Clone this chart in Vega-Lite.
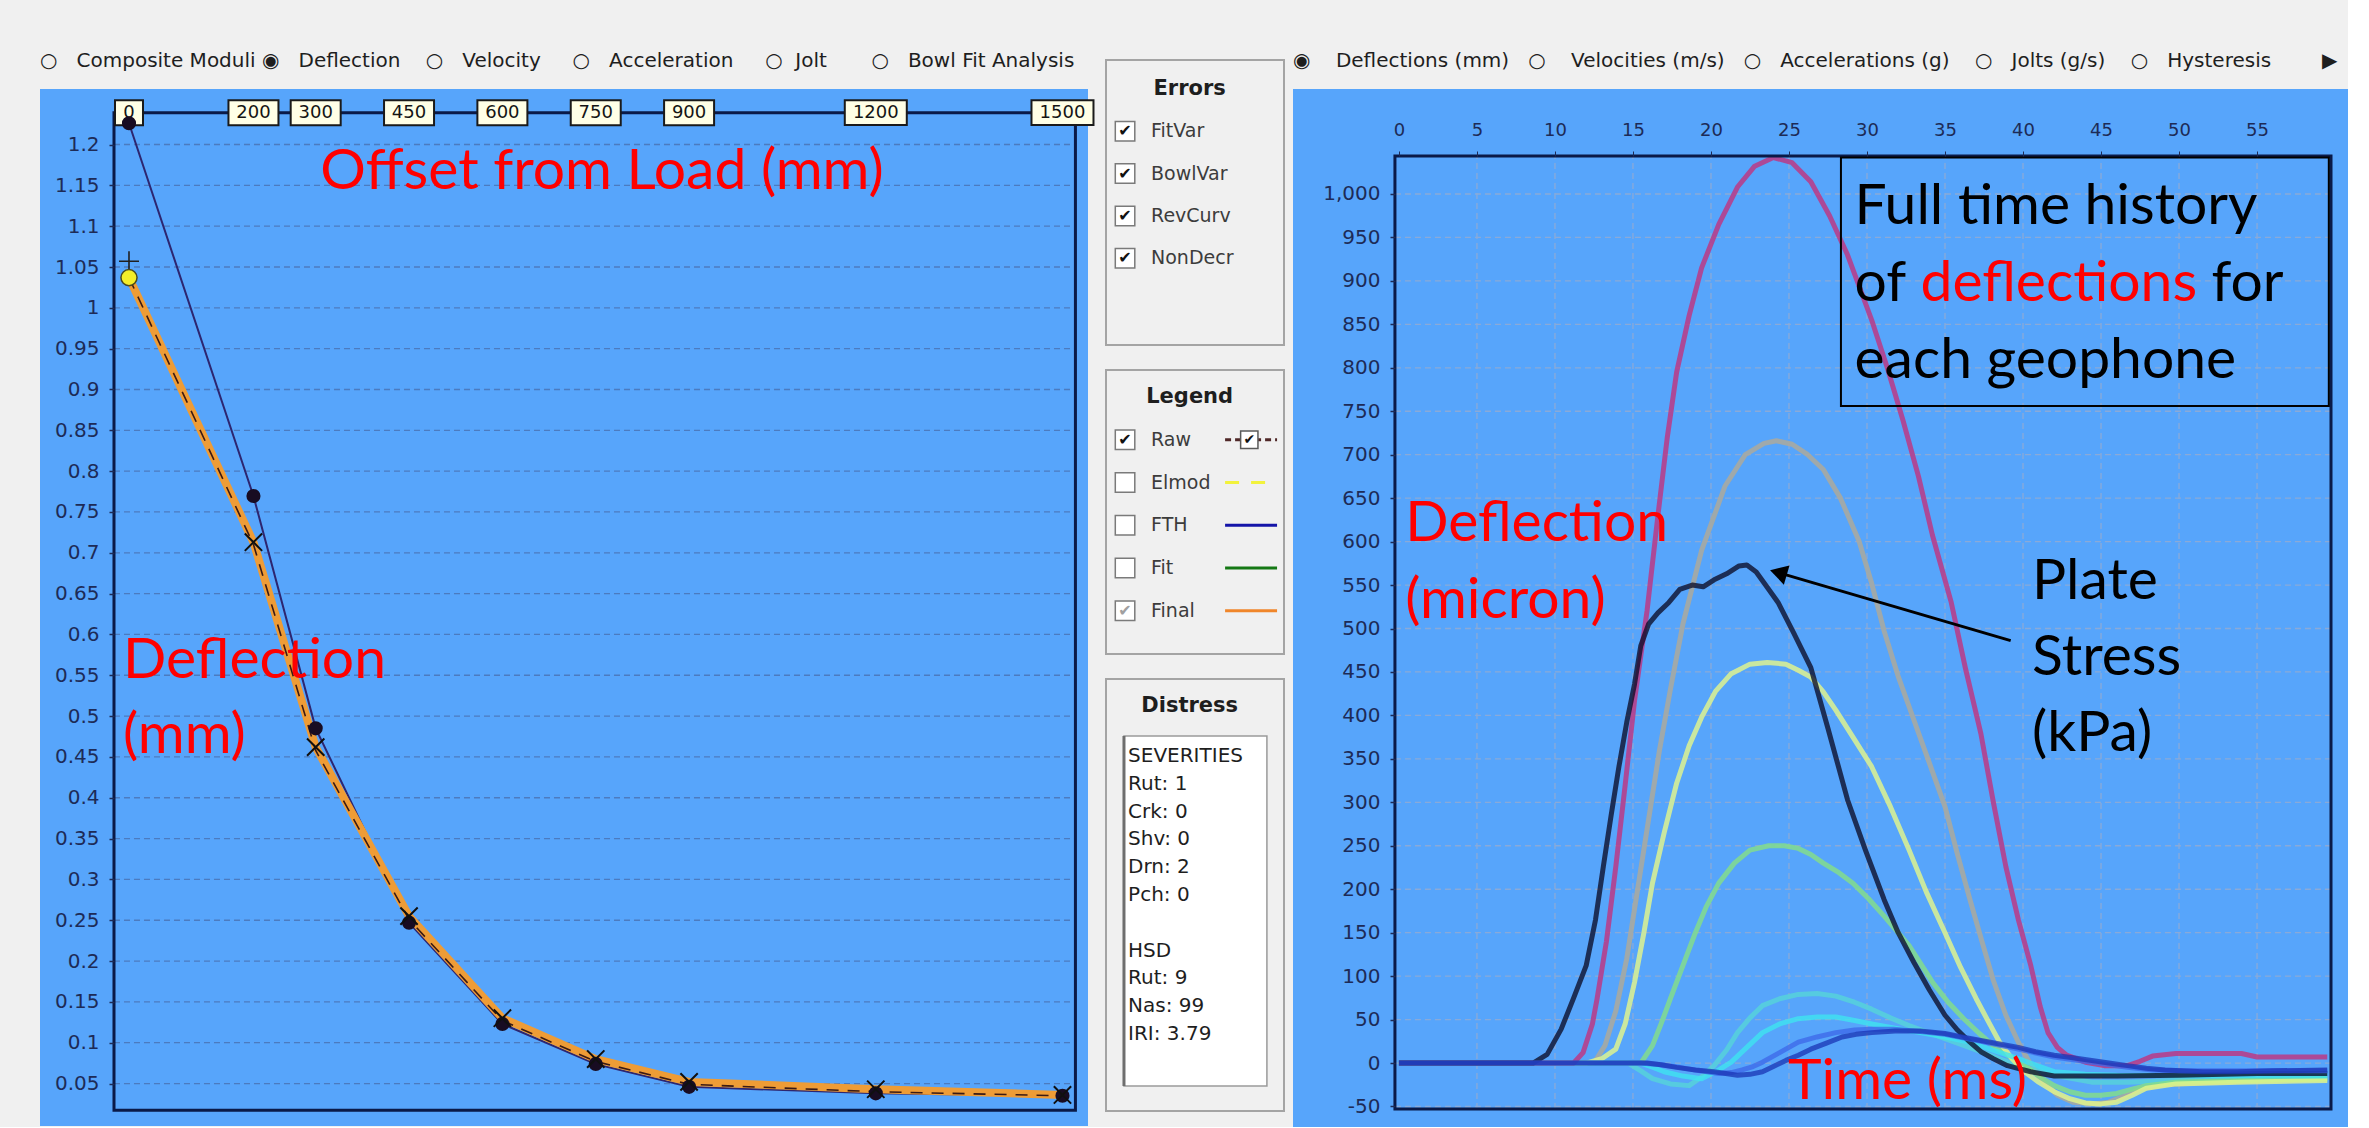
{
"$schema": "https://vega.github.io/schema/vega-lite/v6.json",
"background": "#F0F0F0",
"padding": {"left": 40, "top": 51, "right": 0, "bottom": 0},
"config": {"view": {"stroke": null}, "font": "DejaVu Sans"},
"datasets": {
"one": [{}],
"bowl": [
{"series":"Peak","offset":0,"defl":1.226},{"series":"Peak","offset":200,"defl":0.7695},{"series":"Peak","offset":300,"defl":0.485},{"series":"Peak","offset":450,"defl":0.247},{"series":"Peak","offset":600,"defl":0.123},{"series":"Peak","offset":750,"defl":0.074},{"series":"Peak","offset":900,"defl":0.046},{"series":"Peak","offset":1200,"defl":0.038},{"series":"Peak","offset":1500,"defl":0.035},
{"series":"Final","offset":0,"defl":1.037},{"series":"Final","offset":200,"defl":0.713},{"series":"Final","offset":300,"defl":0.462},{"series":"Final","offset":450,"defl":0.255},{"series":"Final","offset":600,"defl":0.13},{"series":"Final","offset":750,"defl":0.08},{"series":"Final","offset":900,"defl":0.052},{"series":"Final","offset":1200,"defl":0.043},{"series":"Final","offset":1500,"defl":0.036},
{"series":"Raw","offset":0,"defl":1.037},{"series":"Raw","offset":200,"defl":0.71},{"series":"Raw","offset":300,"defl":0.458},{"series":"Raw","offset":450,"defl":0.251},{"series":"Raw","offset":600,"defl":0.127},{"series":"Raw","offset":750,"defl":0.077},{"series":"Raw","offset":900,"defl":0.049},{"series":"Raw","offset":1200,"defl":0.04},{"series":"Raw","offset":1500,"defl":0.035},
{"series":"Plus","offset":0,"defl":1.057}
],
"gridL": [{"v":0.05},{"v":0.1},{"v":0.15},{"v":0.2},{"v":0.25},{"v":0.3},{"v":0.35},{"v":0.4},{"v":0.45},{"v":0.5},{"v":0.55},{"v":0.6},{"v":0.65},{"v":0.7},{"v":0.75},{"v":0.8},{"v":0.85},{"v":0.9},{"v":0.95},{"v":1},{"v":1.05},{"v":1.1},{"v":1.15},{"v":1.2}],
"gridRX": [{"t":5},{"t":10},{"t":15},{"t":20},{"t":25},{"t":30},{"t":35},{"t":40},{"t":45},{"t":50},{"t":55}],
"gridRY": [{"v":-50},{"v":0},{"v":50},{"v":100},{"v":150},{"v":200},{"v":250},{"v":300},{"v":350},{"v":400},{"v":450},{"v":500},{"v":550},{"v":600},{"v":650},{"v":700},{"v":750},{"v":800},{"v":850},{"v":900},{"v":950},{"v":1000}],
"errorsItems": [{"line":1,"label":"FitVar","state":"on"},{"line":2,"label":"BowlVar","state":"on"},{"line":3,"label":"RevCurv","state":"on"},{"line":4,"label":"NonDecr","state":"on"}],
"legendItems": [{"line":1,"label":"Raw","state":"on"},{"line":2,"label":"Elmod","state":"off"},{"line":3,"label":"FTH","state":"off"},{"line":4,"label":"Fit","state":"off"},{"line":5,"label":"Final","state":"grey"}],
"distressLines": [{"line":1,"text":"SEVERITIES"},{"line":2,"text":"Rut: 1"},{"line":3,"text":"Crk: 0"},{"line":4,"text":"Shv: 0"},{"line":5,"text":"Drn: 2"},{"line":6,"text":"Pch: 0"},{"line":8,"text":"HSD"},{"line":9,"text":"Rut: 9"},{"line":10,"text":"Nas: 99"},{"line":11,"text":"IRI: 3.79"}],
"history": [
{"g":"D2","t":0,"v":0},{"g":"D2","t":12.5,"v":0},{"g":"D2","t":13.2,"v":20},{"g":"D2","t":13.9,"v":60},{"g":"D2","t":14.6,"v":120},{"g":"D2","t":15.3,"v":200},{"g":"D2","t":16,"v":280},{"g":"D2","t":16.7,"v":360},{"g":"D2","t":17.4,"v":430},{"g":"D2","t":18.2,"v":505},{"g":"D2","t":19.4,"v":590},{"g":"D2","t":20.9,"v":664},{"g":"D2","t":22.2,"v":700},{"g":"D2","t":23.4,"v":713},{"g":"D2","t":24.2,"v":716},{"g":"D2","t":25.2,"v":712},{"g":"D2","t":26.2,"v":700},{"g":"D2","t":27.2,"v":683},{"g":"D2","t":28.3,"v":650},{"g":"D2","t":29.5,"v":600},{"g":"D2","t":30.3,"v":552},{"g":"D2","t":31.1,"v":497},{"g":"D2","t":32,"v":445},{"g":"D2","t":33,"v":395},{"g":"D2","t":34,"v":345},{"g":"D2","t":35,"v":295},{"g":"D2","t":35.8,"v":240},{"g":"D2","t":36.6,"v":188},{"g":"D2","t":37.4,"v":138},{"g":"D2","t":38.1,"v":95},{"g":"D2","t":38.9,"v":55},{"g":"D2","t":39.7,"v":24},{"g":"D2","t":40.5,"v":-2},{"g":"D2","t":41.3,"v":-22},{"g":"D2","t":42.2,"v":-37},{"g":"D2","t":43.2,"v":-45},{"g":"D2","t":44.5,"v":-47},{"g":"D2","t":45.5,"v":-45},{"g":"D2","t":46.5,"v":-38},{"g":"D2","t":47.5,"v":-30},{"g":"D2","t":49,"v":-25},{"g":"D2","t":51,"v":-23},{"g":"D2","t":54,"v":-21},{"g":"D2","t":59.5,"v":-18},
{"g":"D5","t":0,"v":0},{"g":"D5","t":14.7,"v":0},{"g":"D5","t":15.5,"v":-9},{"g":"D5","t":16.25,"v":-18},{"g":"D5","t":17.4,"v":-24},{"g":"D5","t":18.6,"v":-26},{"g":"D5","t":19.4,"v":-16},{"g":"D5","t":20.2,"v":-3},{"g":"D5","t":21,"v":15},{"g":"D5","t":21.7,"v":35},{"g":"D5","t":22.5,"v":52},{"g":"D5","t":23.3,"v":66},{"g":"D5","t":24.4,"v":74},{"g":"D5","t":25.6,"v":79},{"g":"D5","t":26.8,"v":80},{"g":"D5","t":28,"v":77},{"g":"D5","t":29.2,"v":70},{"g":"D5","t":30.3,"v":62},{"g":"D5","t":31.5,"v":52},{"g":"D5","t":32.7,"v":43},{"g":"D5","t":35,"v":28},{"g":"D5","t":37.3,"v":13},{"g":"D5","t":39.7,"v":-3},{"g":"D5","t":42,"v":-14},{"g":"D5","t":44.4,"v":-22},{"g":"D5","t":46.7,"v":-22},{"g":"D5","t":49.8,"v":-20},{"g":"D5","t":59.5,"v":-18},
{"g":"D4","t":0,"v":0},{"g":"D4","t":15.5,"v":0},{"g":"D4","t":16.25,"v":20},{"g":"D4","t":16.8,"v":45},{"g":"D4","t":17.4,"v":74},{"g":"D4","t":18.2,"v":112},{"g":"D4","t":19,"v":150},{"g":"D4","t":19.7,"v":180},{"g":"D4","t":20.5,"v":207},{"g":"D4","t":21.5,"v":230},{"g":"D4","t":22.5,"v":245},{"g":"D4","t":23.7,"v":250},{"g":"D4","t":24.7,"v":250},{"g":"D4","t":25.6,"v":247},{"g":"D4","t":26.4,"v":240},{"g":"D4","t":27.2,"v":230},{"g":"D4","t":28.2,"v":219},{"g":"D4","t":29.1,"v":207},{"g":"D4","t":30.1,"v":189},{"g":"D4","t":31.1,"v":169},{"g":"D4","t":32.7,"v":135},{"g":"D4","t":34.2,"v":93},{"g":"D4","t":35.2,"v":70},{"g":"D4","t":36.2,"v":51},{"g":"D4","t":37.2,"v":34},{"g":"D4","t":38.1,"v":20},{"g":"D4","t":39.1,"v":8},{"g":"D4","t":40.1,"v":-3},{"g":"D4","t":41,"v":-15},{"g":"D4","t":42,"v":-26},{"g":"D4","t":43,"v":-33},{"g":"D4","t":44,"v":-37},{"g":"D4","t":45,"v":-37},{"g":"D4","t":46,"v":-35},{"g":"D4","t":47,"v":-30},{"g":"D4","t":47.9,"v":-26},{"g":"D4","t":49.8,"v":-22},{"g":"D4","t":59.5,"v":-18},
{"g":"D3","t":0,"v":0},{"g":"D3","t":12,"v":0},{"g":"D3","t":13,"v":5},{"g":"D3","t":13.9,"v":16},{"g":"D3","t":14.5,"v":45},{"g":"D3","t":15.1,"v":93},{"g":"D3","t":15.7,"v":150},{"g":"D3","t":16.25,"v":207},{"g":"D3","t":17,"v":265},{"g":"D3","t":17.8,"v":322},{"g":"D3","t":18.6,"v":365},{"g":"D3","t":19.4,"v":398},{"g":"D3","t":20.3,"v":428},{"g":"D3","t":21.3,"v":448},{"g":"D3","t":22.5,"v":459},{"g":"D3","t":23.6,"v":461},{"g":"D3","t":24.8,"v":459},{"g":"D3","t":25.6,"v":452},{"g":"D3","t":26.4,"v":444},{"g":"D3","t":27.2,"v":427},{"g":"D3","t":28,"v":406},{"g":"D3","t":29.1,"v":375},{"g":"D3","t":30.3,"v":341},{"g":"D3","t":31.5,"v":295},{"g":"D3","t":32.7,"v":245},{"g":"D3","t":33.8,"v":197},{"g":"D3","t":35,"v":150},{"g":"D3","t":36,"v":110},{"g":"D3","t":37,"v":74},{"g":"D3","t":37.8,"v":47},{"g":"D3","t":38.5,"v":24},{"g":"D3","t":39.3,"v":5},{"g":"D3","t":40.1,"v":-10},{"g":"D3","t":41,"v":-22},{"g":"D3","t":42,"v":-33},{"g":"D3","t":43,"v":-41},{"g":"D3","t":44,"v":-46},{"g":"D3","t":45,"v":-47},{"g":"D3","t":46,"v":-45},{"g":"D3","t":47,"v":-37},{"g":"D3","t":47.9,"v":-29},{"g":"D3","t":49.8,"v":-24},{"g":"D3","t":53.75,"v":-22},{"g":"D3","t":59.5,"v":-20},
{"g":"D6","t":0,"v":0},{"g":"D6","t":15.5,"v":0},{"g":"D6","t":16.3,"v":-5},{"g":"D6","t":17,"v":-10},{"g":"D6","t":18.2,"v":-15},{"g":"D6","t":19.4,"v":-18},{"g":"D6","t":20.4,"v":-9},{"g":"D6","t":21.3,"v":1},{"g":"D6","t":22.3,"v":18},{"g":"D6","t":23.3,"v":35},{"g":"D6","t":24.4,"v":45},{"g":"D6","t":25.6,"v":51},{"g":"D6","t":26.8,"v":53},{"g":"D6","t":28,"v":53},{"g":"D6","t":29.2,"v":49},{"g":"D6","t":30.3,"v":45},{"g":"D6","t":31.8,"v":40},{"g":"D6","t":33.4,"v":35},{"g":"D6","t":35,"v":30},{"g":"D6","t":36.6,"v":24},{"g":"D6","t":38.2,"v":14},{"g":"D6","t":39.7,"v":5},{"g":"D6","t":40.9,"v":-3},{"g":"D6","t":42,"v":-10},{"g":"D6","t":44,"v":-13},{"g":"D6","t":46,"v":-14},{"g":"D6","t":59.5,"v":-15},
{"g":"D1","t":0,"v":0},{"g":"D1","t":11.2,"v":0},{"g":"D1","t":11.8,"v":12},{"g":"D1","t":12.4,"v":45},{"g":"D1","t":12.7,"v":74},{"g":"D1","t":13.3,"v":140},{"g":"D1","t":13.9,"v":226},{"g":"D1","t":14.5,"v":320},{"g":"D1","t":15.1,"v":417},{"g":"D1","t":15.9,"v":520},{"g":"D1","t":16.6,"v":630},{"g":"D1","t":17.2,"v":720},{"g":"D1","t":17.8,"v":795},{"g":"D1","t":18.6,"v":860},{"g":"D1","t":19.4,"v":915},{"g":"D1","t":20.5,"v":965},{"g":"D1","t":21.7,"v":1008},{"g":"D1","t":22.8,"v":1032},{"g":"D1","t":24,"v":1042},{"g":"D1","t":25.2,"v":1036},{"g":"D1","t":26.4,"v":1014},{"g":"D1","t":27.6,"v":975},{"g":"D1","t":28.75,"v":930},{"g":"D1","t":30.3,"v":855},{"g":"D1","t":31.3,"v":800},{"g":"D1","t":32.3,"v":740},{"g":"D1","t":33.3,"v":675},{"g":"D1","t":34.2,"v":607},{"g":"D1","t":35.4,"v":530},{"g":"D1","t":36.3,"v":455},{"g":"D1","t":37.3,"v":379},{"g":"D1","t":38.1,"v":300},{"g":"D1","t":38.9,"v":226},{"g":"D1","t":39.7,"v":165},{"g":"D1","t":40.5,"v":112},{"g":"D1","t":41.1,"v":65},{"g":"D1","t":41.6,"v":35},{"g":"D1","t":42.2,"v":18},{"g":"D1","t":42.8,"v":9},{"g":"D1","t":44,"v":1},{"g":"D1","t":45.2,"v":-3},{"g":"D1","t":46.7,"v":-3},{"g":"D1","t":47.5,"v":2},{"g":"D1","t":48.3,"v":8},{"g":"D1","t":49.8,"v":11},{"g":"D1","t":54,"v":11},{"g":"D1","t":55,"v":7},{"g":"D1","t":59.5,"v":7},
{"g":"Load","t":0,"v":0},{"g":"Load","t":8.6,"v":0},{"g":"Load","t":9.5,"v":10},{"g":"Load","t":10.4,"v":39},{"g":"Load","t":11.2,"v":75},{"g":"Load","t":12,"v":112},{"g":"Load","t":12.6,"v":165},{"g":"Load","t":13.1,"v":226},{"g":"Load","t":13.6,"v":285},{"g":"Load","t":14.1,"v":341},{"g":"Load","t":14.6,"v":392},{"g":"Load","t":15.1,"v":436},{"g":"Load","t":15.5,"v":480},{"g":"Load","t":16,"v":505},{"g":"Load","t":16.6,"v":518},{"g":"Load","t":17.3,"v":530},{"g":"Load","t":18,"v":545},{"g":"Load","t":18.8,"v":550},{"g":"Load","t":19.5,"v":548},{"g":"Load","t":20.2,"v":556},{"g":"Load","t":21,"v":563},{"g":"Load","t":21.8,"v":572},{"g":"Load","t":22.3,"v":573},{"g":"Load","t":22.9,"v":565},{"g":"Load","t":23.5,"v":550},{"g":"Load","t":24.3,"v":530},{"g":"Load","t":25.3,"v":495},{"g":"Load","t":26.4,"v":455},{"g":"Load","t":27.5,"v":385},{"g":"Load","t":28.75,"v":303},{"g":"Load","t":29.9,"v":245},{"g":"Load","t":31.1,"v":188},{"g":"Load","t":32,"v":150},{"g":"Load","t":33,"v":116},{"g":"Load","t":34,"v":84},{"g":"Load","t":35,"v":55},{"g":"Load","t":35.8,"v":38},{"g":"Load","t":36.6,"v":24},{"g":"Load","t":37.3,"v":13},{"g":"Load","t":38.1,"v":5},{"g":"Load","t":39,"v":-3},{"g":"Load","t":40.5,"v":-10},{"g":"Load","t":42,"v":-15},{"g":"Load","t":46,"v":-15},{"g":"Load","t":50,"v":-14},{"g":"Load","t":55,"v":-12},{"g":"Load","t":59.5,"v":-12},
{"g":"D7","t":0,"v":0},{"g":"D7","t":15.5,"v":0},{"g":"D7","t":16.8,"v":-2},{"g":"D7","t":18,"v":-5},{"g":"D7","t":19.3,"v":-9},{"g":"D7","t":20.5,"v":-12},{"g":"D7","t":21.3,"v":-11},{"g":"D7","t":22,"v":-8},{"g":"D7","t":22.7,"v":-4},{"g":"D7","t":23.3,"v":1},{"g":"D7","t":24.4,"v":12},{"g":"D7","t":25.6,"v":24},{"g":"D7","t":26.8,"v":30},{"g":"D7","t":28,"v":35},{"g":"D7","t":29.2,"v":38},{"g":"D7","t":30.3,"v":39},{"g":"D7","t":31.7,"v":39},{"g":"D7","t":33,"v":37},{"g":"D7","t":35,"v":33},{"g":"D7","t":37.3,"v":25},{"g":"D7","t":39.7,"v":16},{"g":"D7","t":42,"v":7},{"g":"D7","t":44.4,"v":1},{"g":"D7","t":46.7,"v":-5},{"g":"D7","t":48.3,"v":-8},{"g":"D7","t":50,"v":-9},{"g":"D7","t":59.5,"v":-9},
{"g":"D8","t":0,"v":0},{"g":"D8","t":15.9,"v":0},{"g":"D8","t":16.8,"v":-2},{"g":"D8","t":17.8,"v":-5},{"g":"D8","t":19,"v":-8},{"g":"D8","t":20.2,"v":-10},{"g":"D8","t":21.7,"v":-14},{"g":"D8","t":22.5,"v":-13},{"g":"D8","t":23.3,"v":-10},{"g":"D8","t":24,"v":-4},{"g":"D8","t":24.8,"v":3},{"g":"D8","t":25.6,"v":9},{"g":"D8","t":26.4,"v":16},{"g":"D8","t":27.4,"v":23},{"g":"D8","t":28.4,"v":30},{"g":"D8","t":29.3,"v":33},{"g":"D8","t":30.3,"v":35},{"g":"D8","t":31.8,"v":37},{"g":"D8","t":33.4,"v":37},{"g":"D8","t":35,"v":34},{"g":"D8","t":36.1,"v":30},{"g":"D8","t":37.3,"v":26},{"g":"D8","t":38.5,"v":22},{"g":"D8","t":39.7,"v":18},{"g":"D8","t":40.8,"v":13},{"g":"D8","t":42,"v":9},{"g":"D8","t":43.2,"v":6},{"g":"D8","t":44.4,"v":3},{"g":"D8","t":45.5,"v":0},{"g":"D8","t":46.7,"v":-3},{"g":"D8","t":47.9,"v":-6},{"g":"D8","t":49.1,"v":-8},{"g":"D8","t":51.5,"v":-10},{"g":"D8","t":53.75,"v":-10},{"g":"D8","t":56,"v":-9},{"g":"D8","t":59.5,"v":-8}
]
},
"spacing": 7,
"align": "none",
"resolve": {"scale": {"color": "independent", "strokeDash": "independent", "strokeWidth": "independent", "opacity": "independent", "size": "independent", "shape": "independent"}},
"hconcat": [
{
"width": 1048, "height": 1037,
"view": {"stroke": null, "fill": "#57A5FB"},
"title": {"text": "○\u00a0\u00a0\u00a0Composite Moduli\u00a0◉\u00a0\u00a0\u00a0Deflection\u00a0\u00a0\u00a0\u00a0○\u00a0\u00a0\u00a0Velocity\u00a0\u00a0\u00a0\u00a0\u00a0○\u00a0\u00a0\u00a0Acceleration\u00a0\u00a0\u00a0\u00a0\u00a0○\u00a0\u00a0Jolt\u00a0\u00a0\u00a0\u00a0\u00a0\u00a0\u00a0○\u00a0\u00a0\u00a0Bowl Fit Analysis", "anchor": "start", "font": "DejaVu Sans", "fontSize": 20, "fontWeight": "normal", "color": "#1E1E1E", "offset": -2, "baseline": "bottom"},
"layer": [
{"data": {"name": "gridL"},
 "mark": {"type": "rule", "stroke": "#4A70B0", "strokeWidth": 1.3, "strokeDash": [6, 4], "opacity": 0.8},
 "encoding": {
  "y": {"field": "v", "type": "quantitative", "scale": {"domain": [-0.002, 1.268], "nice": false, "zero": false},
        "axis": {"values": [0.05,0.1,0.15,0.2,0.25,0.3,0.35,0.4,0.45,0.5,0.55,0.6,0.65,0.7,0.75,0.8,0.85,0.9,0.95,1,1.05,1.1,1.15,1.2], "format": "~g", "offset": -74, "labelFont": "DejaVu Sans", "labelFontSize": 20, "labelColor": "#1D2B57", "tickColor": "#1D2B57", "tickSize": 5, "tickWidth": 1.5, "labelPadding": 10, "domain": false, "grid": false, "title": null, "zindex": 1, "labelOverlap": false, "labelFlush": false, "labelBound": false}},
  "x": {"datum": -24.1, "type": "quantitative", "scale": {"domain": [-143, 1541], "nice": false, "zero": false}, "axis": null},
  "x2": {"datum": 1520.8}}},
{"data": {"name": "one"},
 "mark": {"type": "rect", "fill": "#57A5FB", "fillOpacity": 0, "stroke": "#0A1A48", "strokeWidth": 3},
 "encoding": {
  "x": {"datum": -24.1, "type": "quantitative", "axis": null}, "x2": {"datum": 1520.8},
  "y": {"datum": 0.0172, "type": "quantitative",
        "axis": {"values": [0.05,0.1,0.15,0.2,0.25,0.3,0.35,0.4,0.45,0.5,0.55,0.6,0.65,0.7,0.75,0.8,0.85,0.9,0.95,1,1.05,1.1,1.15,1.2], "format": "~g", "offset": -74, "labelFont": "DejaVu Sans", "labelFontSize": 20, "labelColor": "#1D2B57", "tickColor": "#1D2B57", "tickSize": 5, "tickWidth": 1.5, "labelPadding": 10, "domain": false, "grid": false, "title": null, "zindex": 1, "labelOverlap": false, "labelFlush": false, "labelBound": false}},
  "y2": {"datum": 1.239}}},
{"data": {"name": "bowl"}, "transform": [{"filter": "datum.series === 'Peak'"}],
 "mark": {"type": "line", "color": "#2D2670", "strokeWidth": 2},
 "encoding": {"x": {"field": "offset", "type": "quantitative", "axis": null},
  "y": {"field": "defl", "type": "quantitative",
        "axis": {"values": [0.05,0.1,0.15,0.2,0.25,0.3,0.35,0.4,0.45,0.5,0.55,0.6,0.65,0.7,0.75,0.8,0.85,0.9,0.95,1,1.05,1.1,1.15,1.2], "format": "~g", "offset": -74, "labelFont": "DejaVu Sans", "labelFontSize": 20, "labelColor": "#1D2B57", "tickColor": "#1D2B57", "tickSize": 5, "tickWidth": 1.5, "labelPadding": 10, "domain": false, "grid": false, "title": null, "zindex": 1, "labelOverlap": false, "labelFlush": false, "labelBound": false}}}},
{"data": {"name": "bowl"}, "transform": [{"filter": "datum.series === 'Final'"}],
 "mark": {"type": "line", "color": "#EE9C36", "strokeWidth": 8, "strokeJoin": "round", "strokeCap": "round"},
 "encoding": {"x": {"field": "offset", "type": "quantitative", "axis": null},
  "y": {"field": "defl", "type": "quantitative",
        "axis": {"values": [0.05,0.1,0.15,0.2,0.25,0.3,0.35,0.4,0.45,0.5,0.55,0.6,0.65,0.7,0.75,0.8,0.85,0.9,0.95,1,1.05,1.1,1.15,1.2], "format": "~g", "offset": -74, "labelFont": "DejaVu Sans", "labelFontSize": 20, "labelColor": "#1D2B57", "tickColor": "#1D2B57", "tickSize": 5, "tickWidth": 1.5, "labelPadding": 10, "domain": false, "grid": false, "title": null, "zindex": 1, "labelOverlap": false, "labelFlush": false, "labelBound": false}}}},
{"data": {"name": "bowl"}, "transform": [{"filter": "datum.series === 'Raw'"}],
 "mark": {"type": "line", "color": "#3B1A14", "strokeWidth": 1.6, "strokeDash": [12, 9]},
 "encoding": {"x": {"field": "offset", "type": "quantitative", "axis": null},
  "y": {"field": "defl", "type": "quantitative",
        "axis": {"values": [0.05,0.1,0.15,0.2,0.25,0.3,0.35,0.4,0.45,0.5,0.55,0.6,0.65,0.7,0.75,0.8,0.85,0.9,0.95,1,1.05,1.1,1.15,1.2], "format": "~g", "offset": -74, "labelFont": "DejaVu Sans", "labelFontSize": 20, "labelColor": "#1D2B57", "tickColor": "#1D2B57", "tickSize": 5, "tickWidth": 1.5, "labelPadding": 10, "domain": false, "grid": false, "title": null, "zindex": 1, "labelOverlap": false, "labelFlush": false, "labelBound": false}}}},
{"data": {"name": "bowl"}, "transform": [{"filter": "datum.series === 'Peak' && datum.offset === 0"}],
 "mark": {"type": "point", "shape": "M-1,-0.89L1,-0.89L1,0.89L-1,0.89Z", "size": 784, "filled": true, "fill": "#FFFFE6", "stroke": "#1A1A1A", "strokeWidth": 2, "opacity": 1},
 "encoding": {"x": {"field": "offset", "type": "quantitative", "axis": null},
  "y": {"datum": 1.239, "type": "quantitative",
        "axis": {"values": [0.05,0.1,0.15,0.2,0.25,0.3,0.35,0.4,0.45,0.5,0.55,0.6,0.65,0.7,0.75,0.8,0.85,0.9,0.95,1,1.05,1.1,1.15,1.2], "format": "~g", "offset": -74, "labelFont": "DejaVu Sans", "labelFontSize": 20, "labelColor": "#1D2B57", "tickColor": "#1D2B57", "tickSize": 5, "tickWidth": 1.5, "labelPadding": 10, "domain": false, "grid": false, "title": null, "zindex": 1, "labelOverlap": false, "labelFlush": false, "labelBound": false}}}},
{"data": {"name": "bowl"}, "transform": [{"filter": "datum.series === 'Peak' && datum.offset > 0 && datum.offset < 1000"}],
 "mark": {"type": "point", "shape": "M-1,-0.5L1,-0.5L1,0.5L-1,0.5Z", "size": 2500, "filled": true, "fill": "#FFFFE6", "stroke": "#1A1A1A", "strokeWidth": 2, "opacity": 1},
 "encoding": {"x": {"field": "offset", "type": "quantitative", "axis": null},
  "y": {"datum": 1.239, "type": "quantitative",
        "axis": {"values": [0.05,0.1,0.15,0.2,0.25,0.3,0.35,0.4,0.45,0.5,0.55,0.6,0.65,0.7,0.75,0.8,0.85,0.9,0.95,1,1.05,1.1,1.15,1.2], "format": "~g", "offset": -74, "labelFont": "DejaVu Sans", "labelFontSize": 20, "labelColor": "#1D2B57", "tickColor": "#1D2B57", "tickSize": 5, "tickWidth": 1.5, "labelPadding": 10, "domain": false, "grid": false, "title": null, "zindex": 1, "labelOverlap": false, "labelFlush": false, "labelBound": false}}}},
{"data": {"name": "bowl"}, "transform": [{"filter": "datum.series === 'Peak' && datum.offset >= 1000"}],
 "mark": {"type": "point", "shape": "M-1,-0.4L1,-0.4L1,0.4L-1,0.4Z", "size": 3844, "filled": true, "fill": "#FFFFE6", "stroke": "#1A1A1A", "strokeWidth": 2, "opacity": 1},
 "encoding": {"x": {"field": "offset", "type": "quantitative", "axis": null},
  "y": {"datum": 1.239, "type": "quantitative",
        "axis": {"values": [0.05,0.1,0.15,0.2,0.25,0.3,0.35,0.4,0.45,0.5,0.55,0.6,0.65,0.7,0.75,0.8,0.85,0.9,0.95,1,1.05,1.1,1.15,1.2], "format": "~g", "offset": -74, "labelFont": "DejaVu Sans", "labelFontSize": 20, "labelColor": "#1D2B57", "tickColor": "#1D2B57", "tickSize": 5, "tickWidth": 1.5, "labelPadding": 10, "domain": false, "grid": false, "title": null, "zindex": 1, "labelOverlap": false, "labelFlush": false, "labelBound": false}}}},
{"data": {"name": "bowl"}, "transform": [{"filter": "datum.series === 'Peak'"}],
 "mark": {"type": "text", "font": "DejaVu Sans", "fontSize": 18, "color": "#141414", "baseline": "middle", "align": "center"},
 "encoding": {"x": {"field": "offset", "type": "quantitative", "axis": null},
  "y": {"datum": 1.239, "type": "quantitative",
        "axis": {"values": [0.05,0.1,0.15,0.2,0.25,0.3,0.35,0.4,0.45,0.5,0.55,0.6,0.65,0.7,0.75,0.8,0.85,0.9,0.95,1,1.05,1.1,1.15,1.2], "format": "~g", "offset": -74, "labelFont": "DejaVu Sans", "labelFontSize": 20, "labelColor": "#1D2B57", "tickColor": "#1D2B57", "tickSize": 5, "tickWidth": 1.5, "labelPadding": 10, "domain": false, "grid": false, "title": null, "zindex": 1, "labelOverlap": false, "labelFlush": false, "labelBound": false}},
  "text": {"field": "offset", "type": "quantitative", "format": "d"}}},
{"data": {"name": "bowl"}, "transform": [{"filter": "datum.series === 'Peak'"}],
 "mark": {"type": "point", "shape": "circle", "filled": true, "color": "#180C22", "size": 200, "opacity": 1},
 "encoding": {"x": {"field": "offset", "type": "quantitative", "axis": null},
  "y": {"field": "defl", "type": "quantitative",
        "axis": {"values": [0.05,0.1,0.15,0.2,0.25,0.3,0.35,0.4,0.45,0.5,0.55,0.6,0.65,0.7,0.75,0.8,0.85,0.9,0.95,1,1.05,1.1,1.15,1.2], "format": "~g", "offset": -74, "labelFont": "DejaVu Sans", "labelFontSize": 20, "labelColor": "#1D2B57", "tickColor": "#1D2B57", "tickSize": 5, "tickWidth": 1.5, "labelPadding": 10, "domain": false, "grid": false, "title": null, "zindex": 1, "labelOverlap": false, "labelFlush": false, "labelBound": false}}}},
{"data": {"name": "bowl"}, "transform": [{"filter": "datum.series === 'Final' && datum.offset > 0"}],
 "mark": {"type": "point", "shape": "M-1,-1L1,1M-1,1L1,-1", "filled": false, "color": "#101010", "strokeWidth": 2, "size": 300, "opacity": 1},
 "encoding": {"x": {"field": "offset", "type": "quantitative", "axis": null},
  "y": {"field": "defl", "type": "quantitative",
        "axis": {"values": [0.05,0.1,0.15,0.2,0.25,0.3,0.35,0.4,0.45,0.5,0.55,0.6,0.65,0.7,0.75,0.8,0.85,0.9,0.95,1,1.05,1.1,1.15,1.2], "format": "~g", "offset": -74, "labelFont": "DejaVu Sans", "labelFontSize": 20, "labelColor": "#1D2B57", "tickColor": "#1D2B57", "tickSize": 5, "tickWidth": 1.5, "labelPadding": 10, "domain": false, "grid": false, "title": null, "zindex": 1, "labelOverlap": false, "labelFlush": false, "labelBound": false}}}},
{"data": {"name": "bowl"}, "transform": [{"filter": "datum.series === 'Plus'"}],
 "mark": {"type": "point", "shape": "M-1,0L1,0M0,-1L0,1", "filled": false, "color": "#202020", "strokeWidth": 1.6, "size": 400, "opacity": 1},
 "encoding": {"x": {"field": "offset", "type": "quantitative", "axis": null},
  "y": {"field": "defl", "type": "quantitative",
        "axis": {"values": [0.05,0.1,0.15,0.2,0.25,0.3,0.35,0.4,0.45,0.5,0.55,0.6,0.65,0.7,0.75,0.8,0.85,0.9,0.95,1,1.05,1.1,1.15,1.2], "format": "~g", "offset": -74, "labelFont": "DejaVu Sans", "labelFontSize": 20, "labelColor": "#1D2B57", "tickColor": "#1D2B57", "tickSize": 5, "tickWidth": 1.5, "labelPadding": 10, "domain": false, "grid": false, "title": null, "zindex": 1, "labelOverlap": false, "labelFlush": false, "labelBound": false}}}},
{"data": {"name": "bowl"}, "transform": [{"filter": "datum.series === 'Final' && datum.offset === 0"}],
 "mark": {"type": "point", "shape": "circle", "filled": true, "fill": "#F4EE2A", "stroke": "#4A4A20", "strokeWidth": 1.5, "size": 260, "opacity": 1},
 "encoding": {"x": {"field": "offset", "type": "quantitative", "axis": null},
  "y": {"field": "defl", "type": "quantitative",
        "axis": {"values": [0.05,0.1,0.15,0.2,0.25,0.3,0.35,0.4,0.45,0.5,0.55,0.6,0.65,0.7,0.75,0.8,0.85,0.9,0.95,1,1.05,1.1,1.15,1.2], "format": "~g", "offset": -74, "labelFont": "DejaVu Sans", "labelFontSize": 20, "labelColor": "#1D2B57", "tickColor": "#1D2B57", "tickSize": 5, "tickWidth": 1.5, "labelPadding": 10, "domain": false, "grid": false, "title": null, "zindex": 1, "labelOverlap": false, "labelFlush": false, "labelBound": false}}}},
{"data": {"name": "one"},
 "mark": {"type": "text", "text": "Offset from Load (mm)", "font": "Lato", "fontSize": 57, "color": "#FF0000", "align": "center", "baseline": "alphabetic"},
 "encoding": {"x": {"datum": 760, "type": "quantitative", "axis": null},
  "y": {"datum": 1.1455, "type": "quantitative",
        "axis": {"values": [0.05,0.1,0.15,0.2,0.25,0.3,0.35,0.4,0.45,0.5,0.55,0.6,0.65,0.7,0.75,0.8,0.85,0.9,0.95,1,1.05,1.1,1.15,1.2], "format": "~g", "offset": -74, "labelFont": "DejaVu Sans", "labelFontSize": 20, "labelColor": "#1D2B57", "tickColor": "#1D2B57", "tickSize": 5, "tickWidth": 1.5, "labelPadding": 10, "domain": false, "grid": false, "title": null, "zindex": 1, "labelOverlap": false, "labelFlush": false, "labelBound": false}}}},
{"data": {"name": "one"},
 "mark": {"type": "text", "text": ["Deflection", "(mm)"], "lineHeight": 75, "font": "Lato", "fontSize": 57, "color": "#FF0000", "align": "left", "baseline": "alphabetic"},
 "encoding": {"x": {"datum": -9.6, "type": "quantitative", "axis": null},
  "y": {"datum": 0.5466, "type": "quantitative",
        "axis": {"values": [0.05,0.1,0.15,0.2,0.25,0.3,0.35,0.4,0.45,0.5,0.55,0.6,0.65,0.7,0.75,0.8,0.85,0.9,0.95,1,1.05,1.1,1.15,1.2], "format": "~g", "offset": -74, "labelFont": "DejaVu Sans", "labelFontSize": 20, "labelColor": "#1D2B57", "tickColor": "#1D2B57", "tickSize": 5, "tickWidth": 1.5, "labelPadding": 10, "domain": false, "grid": false, "title": null, "zindex": 1, "labelOverlap": false, "labelFlush": false, "labelBound": false}}}}
]
},
{
"spacing": 8,
"align": "none",
"resolve": {"scale": {"color": "independent", "strokeDash": "independent", "strokeWidth": "independent", "opacity": "independent", "size": "independent", "shape": "independent"}},
"hconcat": [
{
"width": 178, "height": 1022,
"view": {"stroke": null},
"resolve": {"scale": {"y": "independent"}},
"layer": [
{"layer": [
{"data": {"name": "one"},
 "mark": {"type": "rect", "fill": "#F0F0F0", "fillOpacity": 0, "stroke": "#A4A4A4", "strokeWidth": 2},
 "encoding": {"x": {"datum": 0, "type": "quantitative", "scale": {"domain": [0, 1], "nice": false, "zero": false}, "axis": null}, "x2": {"datum": 1},
  "y": {"datum": -0.686, "type": "quantitative", "scale": {"domain": [0, 24.16], "reverse": true, "nice": false, "zero": false}, "axis": null}, "y2": {"datum": 6.05}}},
{"data": {"name": "one"},
 "mark": {"type": "text", "text": "Errors", "font": "DejaVu Sans", "fontSize": 21, "fontWeight": "bold", "color": "#1E1E1E", "align": "center", "baseline": "middle"},
 "encoding": {"x": {"datum": 0.47, "type": "quantitative", "axis": null}, "y": {"datum": 0, "type": "quantitative", "axis": null}}},
{"data": {"name": "errorsItems"},
 "mark": {"type": "point", "shape": "square", "filled": true, "fill": "#FFFFFF", "stroke": "#7A7A7A", "strokeWidth": 1.5, "size": 380, "opacity": 1},
 "encoding": {"x": {"datum": 0.107, "type": "quantitative", "axis": null}, "y": {"field": "line", "type": "quantitative", "axis": null}}},
{"data": {"name": "errorsItems"}, "transform": [{"filter": "datum.state === 'on'"}],
 "mark": {"type": "text", "text": "✔", "font": "DejaVu Sans", "fontSize": 16, "color": "#111111", "align": "center", "baseline": "middle"},
 "encoding": {"x": {"datum": 0.107, "type": "quantitative", "axis": null}, "y": {"field": "line", "type": "quantitative", "axis": null}}},
{"data": {"name": "errorsItems"},
 "mark": {"type": "text", "font": "DejaVu Sans", "fontSize": 19, "color": "#3C3C3C", "align": "left", "baseline": "middle"},
 "encoding": {"x": {"datum": 0.253, "type": "quantitative", "axis": null}, "y": {"field": "line", "type": "quantitative", "axis": null}, "text": {"field": "label"}}}
]},
{"layer": [
{"data": {"name": "one"},
 "mark": {"type": "rect", "fill": "#F0F0F0", "fillOpacity": 0, "stroke": "#A4A4A4", "strokeWidth": 2},
 "encoding": {"x": {"datum": 0, "type": "quantitative", "scale": {"domain": [0, 1], "nice": false, "zero": false}, "axis": null}, "x2": {"datum": 1},
  "y": {"datum": -0.632, "type": "quantitative", "scale": {"domain": [-7.205, 16.7], "reverse": true, "nice": false, "zero": false}, "axis": null}, "y2": {"datum": 6.01}}},
{"data": {"name": "one"},
 "mark": {"type": "text", "text": "Legend", "font": "DejaVu Sans", "fontSize": 21, "fontWeight": "bold", "color": "#1E1E1E", "align": "center", "baseline": "middle"},
 "encoding": {"x": {"datum": 0.47, "type": "quantitative", "axis": null}, "y": {"datum": 0, "type": "quantitative", "axis": null}}},
{"data": {"name": "legendItems"},
 "mark": {"type": "rule", "strokeWidth": 3},
 "encoding": {"x": {"datum": 0.669, "type": "quantitative", "axis": null}, "x2": {"datum": 0.961}, "y": {"field": "line", "type": "quantitative", "axis": null},
  "color": {"field": "label", "type": "nominal", "scale": {"domain": ["Raw", "Elmod", "FTH", "Fit", "Final"], "range": ["#502828", "#F2F23C", "#1414A8", "#147814", "#F0862A"]}, "legend": null},
  "strokeDash": {"field": "label", "type": "nominal", "scale": {"domain": ["Raw", "Elmod", "FTH", "Fit", "Final"], "range": [[6, 4], [14, 12], [1, 0], [1, 0], [1, 0]]}, "legend": null}}},
{"data": {"name": "legendItems"}, "transform": [{"filter": "datum.label === 'Raw'"}],
 "mark": {"type": "point", "shape": "square", "filled": true, "fill": "#FFFFFF", "stroke": "#5A5A5A", "strokeWidth": 1.5, "size": 300, "opacity": 1},
 "encoding": {"x": {"datum": 0.805, "type": "quantitative", "axis": null}, "y": {"field": "line", "type": "quantitative", "axis": null}}},
{"data": {"name": "legendItems"}, "transform": [{"filter": "datum.label === 'Raw'"}],
 "mark": {"type": "text", "text": "✔", "font": "DejaVu Sans", "fontSize": 14, "color": "#111111", "align": "center", "baseline": "middle"},
 "encoding": {"x": {"datum": 0.805, "type": "quantitative", "axis": null}, "y": {"field": "line", "type": "quantitative", "axis": null}}},
{"data": {"name": "legendItems"},
 "mark": {"type": "point", "shape": "square", "filled": true, "fill": "#FFFFFF", "stroke": "#7A7A7A", "strokeWidth": 1.5, "size": 380, "opacity": 1},
 "encoding": {"x": {"datum": 0.107, "type": "quantitative", "axis": null}, "y": {"field": "line", "type": "quantitative", "axis": null}}},
{"data": {"name": "legendItems"}, "transform": [{"filter": "datum.state === 'on'"}],
 "mark": {"type": "text", "text": "✔", "font": "DejaVu Sans", "fontSize": 16, "color": "#111111", "align": "center", "baseline": "middle"},
 "encoding": {"x": {"datum": 0.107, "type": "quantitative", "axis": null}, "y": {"field": "line", "type": "quantitative", "axis": null}}},
{"data": {"name": "legendItems"}, "transform": [{"filter": "datum.state === 'grey'"}],
 "mark": {"type": "text", "text": "✔", "font": "DejaVu Sans", "fontSize": 16, "color": "#A0A0A0", "align": "center", "baseline": "middle"},
 "encoding": {"x": {"datum": 0.107, "type": "quantitative", "axis": null}, "y": {"field": "line", "type": "quantitative", "axis": null}}},
{"data": {"name": "legendItems"},
 "mark": {"type": "text", "font": "DejaVu Sans", "fontSize": 19, "color": "#3C3C3C", "align": "left", "baseline": "middle"},
 "encoding": {"x": {"datum": 0.253, "type": "quantitative", "axis": null}, "y": {"field": "line", "type": "quantitative", "axis": null}, "text": {"field": "label"}}}
]},
{"layer": [
{"data": {"name": "one"},
 "mark": {"type": "rect", "fill": "#F0F0F0", "fillOpacity": 0, "stroke": "#A4A4A4", "strokeWidth": 2},
 "encoding": {"x": {"datum": 0, "type": "quantitative", "scale": {"domain": [0, 1], "nice": false, "zero": false}, "axis": null}, "x2": {"datum": 1},
  "y": {"datum": -1.77, "type": "quantitative", "scale": {"domain": [-22.99, 13.77], "reverse": true, "nice": false, "zero": false}, "axis": null}, "y2": {"datum": 13.77}}},
{"data": {"name": "one"},
 "mark": {"type": "text", "text": "Distress", "font": "DejaVu Sans", "fontSize": 21, "fontWeight": "bold", "color": "#1E1E1E", "align": "center", "baseline": "middle"},
 "encoding": {"x": {"datum": 0.47, "type": "quantitative", "axis": null}, "y": {"datum": -0.8, "type": "quantitative", "axis": null}}},
{"data": {"name": "one"},
 "mark": {"type": "rect", "fill": "#FFFFFF", "stroke": "#9A9A9A", "strokeWidth": 1.5},
 "encoding": {"x": {"datum": 0.101, "type": "quantitative", "axis": null}, "x2": {"datum": 0.904}, "y": {"datum": 0.28, "type": "quantitative", "axis": null}, "y2": {"datum": 12.87}}},
{"data": {"name": "one"},
 "mark": {"type": "rule", "stroke": "#6E6E6E", "strokeWidth": 3},
 "encoding": {"x": {"datum": 0.101, "type": "quantitative", "axis": null}, "y": {"datum": 0.28, "type": "quantitative", "axis": null}, "y2": {"datum": 12.87}}},
{"data": {"name": "distressLines"},
 "mark": {"type": "text", "font": "DejaVu Sans", "fontSize": 20, "color": "#1E1E1E", "align": "left", "baseline": "middle"},
 "encoding": {"x": {"datum": 0.124, "type": "quantitative", "axis": null}, "y": {"field": "line", "type": "quantitative", "axis": null}, "text": {"field": "text"}}}
]}
]
},
{
"width": 1055, "height": 1038,
"view": {"stroke": null, "fill": "#57A5FB"},
"title": {"text": "◉\u00a0\u00a0\u00a0\u00a0Deflections (mm)\u00a0\u00a0\u00a0○\u00a0\u00a0\u00a0\u00a0Velocities (m/s)\u00a0\u00a0\u00a0○\u00a0\u00a0\u00a0Accelerations (g)\u00a0\u00a0\u00a0\u00a0○\u00a0\u00a0\u00a0Jolts (g/s)\u00a0\u00a0\u00a0\u00a0○\u00a0\u00a0\u00a0Hysteresis\u00a0\u00a0\u00a0\u00a0\u00a0\u00a0\u00a0\u00a0▶", "anchor": "start", "font": "DejaVu Sans", "fontSize": 20, "fontWeight": "normal", "color": "#1E1E1E", "offset": -2, "baseline": "bottom"},
"layer": [
{"data": {"name": "gridRX"},
 "mark": {"type": "rule", "stroke": "#8AAAD8", "strokeWidth": 1.3, "strokeDash": [6, 4]},
 "encoding": {
  "x": {"field": "t", "type": "quantitative", "scale": {"domain": [-6.79, 60.83], "nice": false, "zero": false},
        "axis": {"orient": "top", "offset": -67, "values": [0,5,10,15,20,25,30,35,40,45,50,55], "labelFont": "DejaVu Sans", "labelFontSize": 18, "labelColor": "#1D2B57", "tickColor": "#1D2B57", "tickSize": 5, "labelPadding": 12, "domain": false, "grid": false, "title": null, "zindex": 1, "labelOverlap": false, "labelFlush": false, "labelBound": false}},
  "y": {"datum": -52.9, "type": "quantitative", "scale": {"domain": [-73.6, 1120.8], "nice": false, "zero": false},
        "axis": {"offset": -102, "values": [-50,0,50,100,150,200,250,300,350,400,450,500,550,600,650,700,750,800,850,900,950,1000], "labelExpr": "datum.value < 0 ? '-' + format(-datum.value, ',') : format(datum.value, ',')", "labelFont": "DejaVu Sans", "labelFontSize": 20, "labelColor": "#1D2B57", "tickColor": "#1D2B57", "tickSize": 5, "tickWidth": 1.5, "labelPadding": 10, "domain": false, "grid": false, "title": null, "zindex": 1, "labelOverlap": false, "labelFlush": false, "labelBound": false}},
  "y2": {"datum": 1043.7}}},
{"data": {"name": "gridRY"},
 "mark": {"type": "rule", "stroke": "#8AAAD8", "strokeWidth": 1.3, "strokeDash": [6, 4]},
 "encoding": {
  "y": {"field": "v", "type": "quantitative",
        "axis": {"offset": -102, "values": [-50,0,50,100,150,200,250,300,350,400,450,500,550,600,650,700,750,800,850,900,950,1000], "labelExpr": "datum.value < 0 ? '-' + format(-datum.value, ',') : format(datum.value, ',')", "labelFont": "DejaVu Sans", "labelFontSize": 20, "labelColor": "#1D2B57", "tickColor": "#1D2B57", "tickSize": 5, "tickWidth": 1.5, "labelPadding": 10, "domain": false, "grid": false, "title": null, "zindex": 1, "labelOverlap": false, "labelFlush": false, "labelBound": false}},
  "x": {"datum": -0.256, "type": "quantitative",
        "axis": {"orient": "top", "offset": -67, "values": [0,5,10,15,20,25,30,35,40,45,50,55], "labelFont": "DejaVu Sans", "labelFontSize": 18, "labelColor": "#1D2B57", "tickColor": "#1D2B57", "tickSize": 5, "labelPadding": 12, "domain": false, "grid": false, "title": null, "zindex": 1, "labelOverlap": false, "labelFlush": false, "labelBound": false}},
  "x2": {"datum": 59.74}}},
{"data": {"name": "history"},
 "mark": {"type": "line", "strokeJoin": "round"},
 "encoding": {
  "x": {"field": "t", "type": "quantitative",
        "axis": {"orient": "top", "offset": -67, "values": [0,5,10,15,20,25,30,35,40,45,50,55], "labelFont": "DejaVu Sans", "labelFontSize": 18, "labelColor": "#1D2B57", "tickColor": "#1D2B57", "tickSize": 5, "labelPadding": 12, "domain": false, "grid": false, "title": null, "zindex": 1, "labelOverlap": false, "labelFlush": false, "labelBound": false}},
  "y": {"field": "v", "type": "quantitative",
        "axis": {"offset": -102, "values": [-50,0,50,100,150,200,250,300,350,400,450,500,550,600,650,700,750,800,850,900,950,1000], "labelExpr": "datum.value < 0 ? '-' + format(-datum.value, ',') : format(datum.value, ',')", "labelFont": "DejaVu Sans", "labelFontSize": 20, "labelColor": "#1D2B57", "tickColor": "#1D2B57", "tickSize": 5, "tickWidth": 1.5, "labelPadding": 10, "domain": false, "grid": false, "title": null, "zindex": 1, "labelOverlap": false, "labelFlush": false, "labelBound": false}},
  "color": {"field": "g", "type": "nominal", "scale": {"domain": ["D2", "D5", "D4", "D3", "D6", "D1", "Load", "D7", "D8"], "range": ["#ABA99C", "#56D2DA", "#84DE88", "#E4F68A", "#3FE4F0", "#C4307C", "#0C0C26", "#3D68E8", "#1934B4"]}, "legend": null},
  "strokeWidth": {"field": "g", "type": "ordinal", "scale": {"domain": ["D2", "D5", "D4", "D3", "D6", "D1", "Load", "D7", "D8"], "range": [5, 5, 4, 2.5, 2.5, 2, 1.6, 2, 3.5]}, "legend": null},
  "opacity": {"field": "g", "type": "ordinal", "scale": {"domain": ["D2", "D5", "D4", "D3", "D6", "D1", "Load", "D7", "D8"], "range": [0.85, 0.75, 0.9, 1, 1, 1, 1, 1, 1]}, "legend": null}}},
{"data": {"name": "one"},
 "layer": [
 {"mark": {"type": "rect", "fill": "#57A5FB", "fillOpacity": 0, "stroke": "#0A1A48", "strokeWidth": 3},
  "encoding": {"x": {"datum": -0.256, "type": "quantitative", "axis": {"orient": "top", "offset": -67, "values": [0,5,10,15,20,25,30,35,40,45,50,55], "labelFont": "DejaVu Sans", "labelFontSize": 18, "labelColor": "#1D2B57", "tickColor": "#1D2B57", "tickSize": 5, "labelPadding": 12, "domain": false, "grid": false, "title": null, "zindex": 1, "labelOverlap": false, "labelFlush": false, "labelBound": false}}, "x2": {"datum": 59.74},
   "y": {"datum": -52.9, "type": "quantitative", "axis": {"offset": -102, "values": [-50,0,50,100,150,200,250,300,350,400,450,500,550,600,650,700,750,800,850,900,950,1000], "labelExpr": "datum.value < 0 ? '-' + format(-datum.value, ',') : format(datum.value, ',')", "labelFont": "DejaVu Sans", "labelFontSize": 20, "labelColor": "#1D2B57", "tickColor": "#1D2B57", "tickSize": 5, "tickWidth": 1.5, "labelPadding": 10, "domain": false, "grid": false, "title": null, "zindex": 1, "labelOverlap": false, "labelFlush": false, "labelBound": false}}, "y2": {"datum": 1043.7}}},
 {"mark": {"type": "rect", "fill": "#57A5FB", "fillOpacity": 0, "stroke": "#000000", "strokeWidth": 2},
  "encoding": {"x": {"datum": 28.33, "type": "quantitative", "axis": {"orient": "top", "offset": -67, "values": [0,5,10,15,20,25,30,35,40,45,50,55], "labelFont": "DejaVu Sans", "labelFontSize": 18, "labelColor": "#1D2B57", "tickColor": "#1D2B57", "tickSize": 5, "labelPadding": 12, "domain": false, "grid": false, "title": null, "zindex": 1, "labelOverlap": false, "labelFlush": false, "labelBound": false}}, "x2": {"datum": 59.6},
   "y": {"datum": 756, "type": "quantitative", "axis": {"offset": -102, "values": [-50,0,50,100,150,200,250,300,350,400,450,500,550,600,650,700,750,800,850,900,950,1000], "labelExpr": "datum.value < 0 ? '-' + format(-datum.value, ',') : format(datum.value, ',')", "labelFont": "DejaVu Sans", "labelFontSize": 20, "labelColor": "#1D2B57", "tickColor": "#1D2B57", "tickSize": 5, "tickWidth": 1.5, "labelPadding": 10, "domain": false, "grid": false, "title": null, "zindex": 1, "labelOverlap": false, "labelFlush": false, "labelBound": false}}, "y2": {"datum": 1041.9}}}
 ]},
{"data": {"name": "one"},
 "encoding": {
  "x": {"datum": 29.2, "type": "quantitative", "axis": {"orient": "top", "offset": -67, "values": [0,5,10,15,20,25,30,35,40,45,50,55], "labelFont": "DejaVu Sans", "labelFontSize": 18, "labelColor": "#1D2B57", "tickColor": "#1D2B57", "tickSize": 5, "labelPadding": 12, "domain": false, "grid": false, "title": null, "zindex": 1, "labelOverlap": false, "labelFlush": false, "labelBound": false}},
  "y": {"datum": 965.5, "type": "quantitative", "axis": {"offset": -102, "values": [-50,0,50,100,150,200,250,300,350,400,450,500,550,600,650,700,750,800,850,900,950,1000], "labelExpr": "datum.value < 0 ? '-' + format(-datum.value, ',') : format(datum.value, ',')", "labelFont": "DejaVu Sans", "labelFontSize": 20, "labelColor": "#1D2B57", "tickColor": "#1D2B57", "tickSize": 5, "tickWidth": 1.5, "labelPadding": 10, "domain": false, "grid": false, "title": null, "zindex": 1, "labelOverlap": false, "labelFlush": false, "labelBound": false}}},
 "layer": [
 {"mark": {"type": "text", "text": "Full time history", "font": "Lato", "fontSize": 57, "color": "#000000", "align": "left", "baseline": "alphabetic"}},
 {"mark": {"type": "text", "text": "of", "font": "Lato", "fontSize": 57, "color": "#000000", "align": "left", "baseline": "alphabetic", "dy": 77}},
 {"mark": {"type": "text", "text": "deflections", "font": "Lato", "fontSize": 57, "color": "#FF0000", "align": "left", "baseline": "alphabetic", "dx": 66, "dy": 77}},
 {"mark": {"type": "text", "text": "for", "font": "Lato", "fontSize": 57, "color": "#000000", "align": "left", "baseline": "alphabetic", "dx": 357, "dy": 77}},
 {"mark": {"type": "text", "text": "each geophone", "font": "Lato", "fontSize": 57, "color": "#000000", "align": "left", "baseline": "alphabetic", "dy": 154}}
 ]},
{"data": {"name": "one"},
 "encoding": {
  "x": {"datum": 0.4, "type": "quantitative", "axis": {"orient": "top", "offset": -67, "values": [0,5,10,15,20,25,30,35,40,45,50,55], "labelFont": "DejaVu Sans", "labelFontSize": 18, "labelColor": "#1D2B57", "tickColor": "#1D2B57", "tickSize": 5, "labelPadding": 12, "domain": false, "grid": false, "title": null, "zindex": 1, "labelOverlap": false, "labelFlush": false, "labelBound": false}},
  "y": {"datum": 600.7, "type": "quantitative", "axis": {"offset": -102, "values": [-50,0,50,100,150,200,250,300,350,400,450,500,550,600,650,700,750,800,850,900,950,1000], "labelExpr": "datum.value < 0 ? '-' + format(-datum.value, ',') : format(datum.value, ',')", "labelFont": "DejaVu Sans", "labelFontSize": 20, "labelColor": "#1D2B57", "tickColor": "#1D2B57", "tickSize": 5, "tickWidth": 1.5, "labelPadding": 10, "domain": false, "grid": false, "title": null, "zindex": 1, "labelOverlap": false, "labelFlush": false, "labelBound": false}}},
 "mark": {"type": "text", "text": ["Deflection", "(micron)"], "lineHeight": 77, "font": "Lato", "fontSize": 57, "color": "#FF0000", "align": "left", "baseline": "alphabetic"}},
{"data": {"name": "one"},
 "encoding": {
  "x": {"datum": 32.6, "type": "quantitative", "axis": {"orient": "top", "offset": -67, "values": [0,5,10,15,20,25,30,35,40,45,50,55], "labelFont": "DejaVu Sans", "labelFontSize": 18, "labelColor": "#1D2B57", "tickColor": "#1D2B57", "tickSize": 5, "labelPadding": 12, "domain": false, "grid": false, "title": null, "zindex": 1, "labelOverlap": false, "labelFlush": false, "labelBound": false}},
  "y": {"datum": -41.4, "type": "quantitative", "axis": {"offset": -102, "values": [-50,0,50,100,150,200,250,300,350,400,450,500,550,600,650,700,750,800,850,900,950,1000], "labelExpr": "datum.value < 0 ? '-' + format(-datum.value, ',') : format(datum.value, ',')", "labelFont": "DejaVu Sans", "labelFontSize": 20, "labelColor": "#1D2B57", "tickColor": "#1D2B57", "tickSize": 5, "tickWidth": 1.5, "labelPadding": 10, "domain": false, "grid": false, "title": null, "zindex": 1, "labelOverlap": false, "labelFlush": false, "labelBound": false}}},
 "mark": {"type": "text", "text": "Time (ms)", "font": "Lato", "fontSize": 57, "color": "#FF0000", "align": "center", "baseline": "alphabetic"}},
{"data": {"name": "one"},
 "encoding": {
  "x": {"datum": 40.58, "type": "quantitative", "axis": {"orient": "top", "offset": -67, "values": [0,5,10,15,20,25,30,35,40,45,50,55], "labelFont": "DejaVu Sans", "labelFontSize": 18, "labelColor": "#1D2B57", "tickColor": "#1D2B57", "tickSize": 5, "labelPadding": 12, "domain": false, "grid": false, "title": null, "zindex": 1, "labelOverlap": false, "labelFlush": false, "labelBound": false}},
  "y": {"datum": 534, "type": "quantitative", "axis": {"offset": -102, "values": [-50,0,50,100,150,200,250,300,350,400,450,500,550,600,650,700,750,800,850,900,950,1000], "labelExpr": "datum.value < 0 ? '-' + format(-datum.value, ',') : format(datum.value, ',')", "labelFont": "DejaVu Sans", "labelFontSize": 20, "labelColor": "#1D2B57", "tickColor": "#1D2B57", "tickSize": 5, "tickWidth": 1.5, "labelPadding": 10, "domain": false, "grid": false, "title": null, "zindex": 1, "labelOverlap": false, "labelFlush": false, "labelBound": false}}},
 "mark": {"type": "text", "text": ["Plate", "Stress", "(kPa)"], "lineHeight": 76, "font": "Lato", "fontSize": 57, "color": "#000000", "align": "left", "baseline": "alphabetic"}},
{"data": {"name": "one"},
 "encoding": {
  "x": {"datum": 24.32, "type": "quantitative", "axis": {"orient": "top", "offset": -67, "values": [0,5,10,15,20,25,30,35,40,45,50,55], "labelFont": "DejaVu Sans", "labelFontSize": 18, "labelColor": "#1D2B57", "tickColor": "#1D2B57", "tickSize": 5, "labelPadding": 12, "domain": false, "grid": false, "title": null, "zindex": 1, "labelOverlap": false, "labelFlush": false, "labelBound": false}},
  "y": {"datum": 564.3, "type": "quantitative", "axis": {"offset": -102, "values": [-50,0,50,100,150,200,250,300,350,400,450,500,550,600,650,700,750,800,850,900,950,1000], "labelExpr": "datum.value < 0 ? '-' + format(-datum.value, ',') : format(datum.value, ',')", "labelFont": "DejaVu Sans", "labelFontSize": 20, "labelColor": "#1D2B57", "tickColor": "#1D2B57", "tickSize": 5, "tickWidth": 1.5, "labelPadding": 10, "domain": false, "grid": false, "title": null, "zindex": 1, "labelOverlap": false, "labelFlush": false, "labelBound": false}}},
 "layer": [
 {"mark": {"type": "rule", "color": "#000000", "strokeWidth": 3}, "encoding": {"x2": {"datum": 39.21}, "y2": {"datum": 486}}},
 {"mark": {"type": "point", "shape": "triangle-left", "filled": true, "color": "#000000", "size": 400, "angle": 16.4, "opacity": 1}}
 ]}
]
}
]
}
]
}
